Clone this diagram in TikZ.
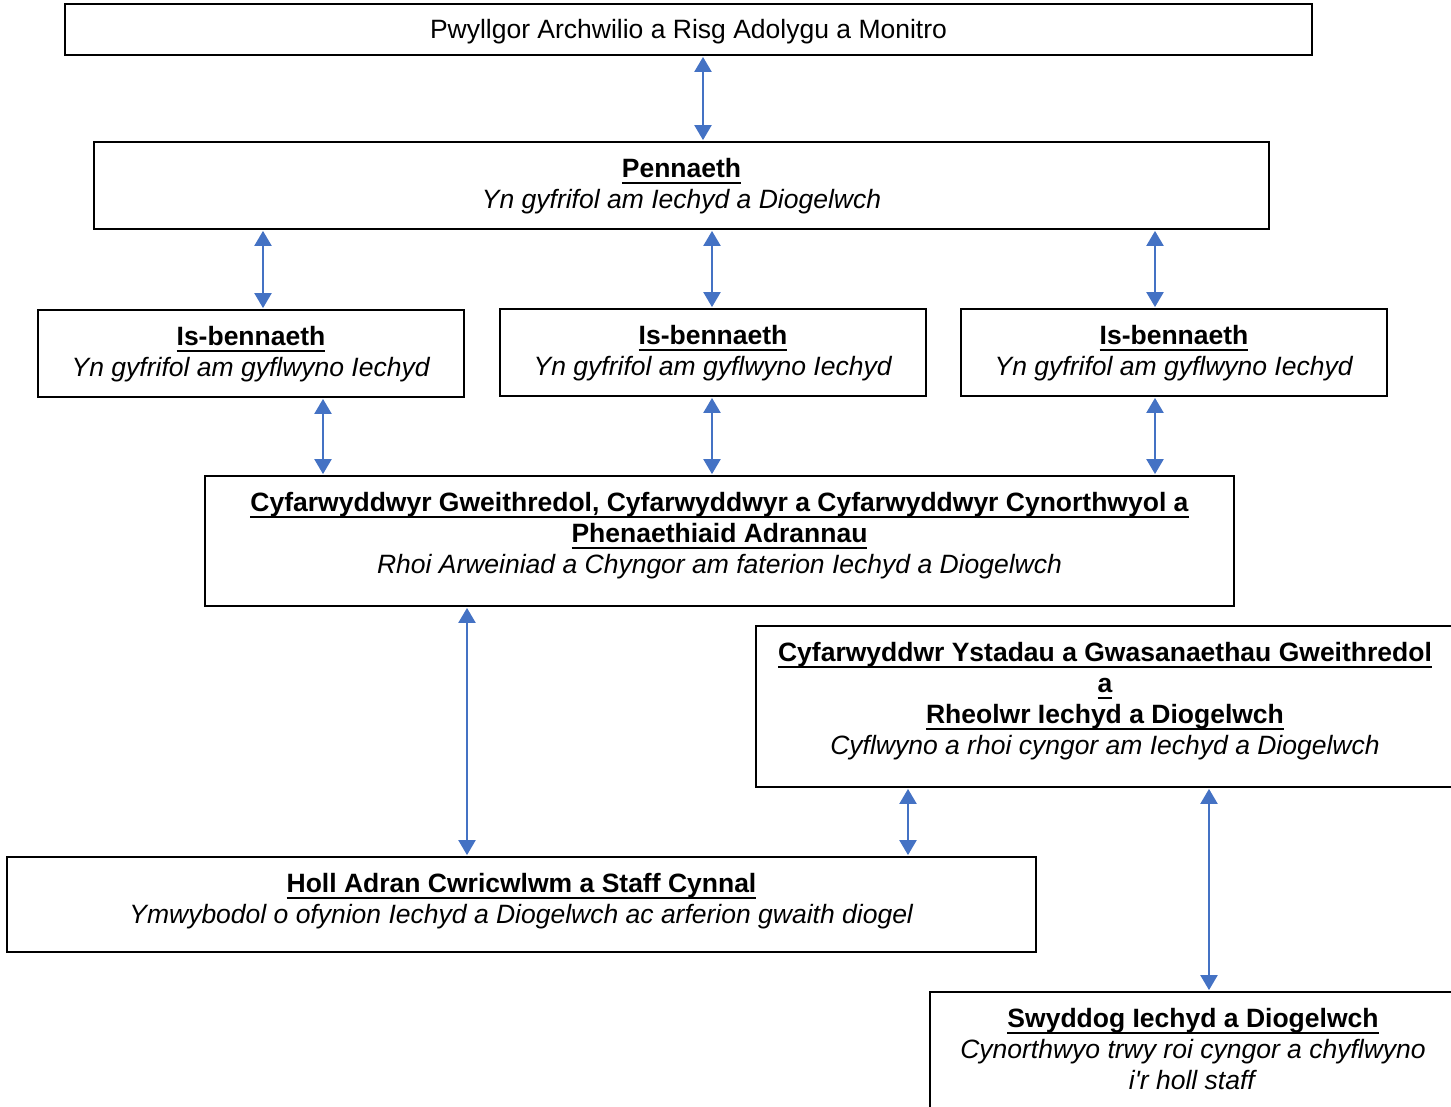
\documentclass[tikz,border=0pt]{standalone}
\usepackage{fontspec}
\setmainfont{Liberation Sans}[Ligatures=TeXOff]
\usetikzlibrary{arrows.meta}
\definecolor{arrowblue}{HTML}{4472C4}
\newcommand\uln[1]{\setbox0\hbox{#1}\rlap{\rule[-6.8pt]{\wd0}{2.3pt}}\box0}
\newcommand\lines[1]{\begin{tabular}[t]{@{}c@{}}#1\end{tabular}}
\tikzset{
  box/.style={draw=black, line width=1.8pt, fill=white, inner sep=0pt},
  txt/.style={anchor=base, inner sep=0pt, font=\fontsize{26.5}{31}\selectfont},
  conn/.style={draw=arrowblue, line width=2.2pt, {Triangle[width=17pt,length=15pt]}-{Triangle[width=17pt,length=15pt]}, shorten <=1pt, shorten >=1pt}
}
\renewcommand\arraystretch{1}
\begin{document}
\begin{tikzpicture}[x=1pt,y=-1pt]
\useasboundingbox (0,0) rectangle (1451,1106);
\clip (0,0) rectangle (1451,1106);
% boxes
\node[box, minimum width=1247pt, minimum height=51pt] (b1) at (688.5,29.5) {};
\node[box, minimum width=1175pt, minimum height=87pt] (b2) at (681.5,185.5) {};
\node[box, minimum width=426pt, minimum height=87pt] (b3a) at (251,353.5) {};
\node[box, minimum width=426pt, minimum height=87pt] (b3b) at (713,352.5) {};
\node[box, minimum width=426pt, minimum height=87pt] (b3c) at (1174,352.5) {};
\node[box, minimum width=1029pt, minimum height=130pt] (b4) at (719.5,541) {};
\node[box, minimum width=698pt, minimum height=161pt] (b5) at (1105,706.5) {};
\node[box, minimum width=1029pt, minimum height=95pt] (b6) at (521.5,904.5) {};
\node[box, minimum width=526pt, minimum height=140pt] (b7) at (1193,1062) {};
% texts
\node[txt] (t1) at (688.5,38) {Pwyllgor Archwilio a Risg Adolygu a Monitro};
\node[txt] (t2) at (681.5,177) {\lines{\textbf{\uln{Pennaeth}}\\ \textit{Yn gyfrifol am Iechyd a Diogelwch}}};
\node[txt] (t3a) at (251,345) {\lines{\textbf{\uln{Is-bennaeth}}\\ \textit{Yn gyfrifol am gyflwyno Iechyd}}};
\node[txt] (t3b) at (713,344) {\lines{\textbf{\uln{Is-bennaeth}}\\ \textit{Yn gyfrifol am gyflwyno Iechyd}}};
\node[txt] (t3c) at (1174,344) {\lines{\textbf{\uln{Is-bennaeth}}\\ \textit{Yn gyfrifol am gyflwyno Iechyd}}};
\node[txt] (t4) at (719.5,511) {\lines{\textbf{\uln{Cyfarwyddwyr Gweithredol, Cyfarwyddwyr a Cyfarwyddwyr Cynorthwyol a}}\\ \textbf{\uln{Phenaethiaid Adrannau}}\\ \textit{Rhoi Arweiniad a Chyngor am faterion Iechyd a Diogelwch}}};
\node[txt] (t5) at (1105,661) {\lines{\textbf{\uln{Cyfarwyddwr Ystadau a Gwasanaethau Gweithredol}}\\ \textbf{\uln{a}}\\ \textbf{\uln{Rheolwr Iechyd a Diogelwch}}\\ \textit{Cyflwyno a rhoi cyngor am Iechyd a Diogelwch}}};
\node[txt] (t6) at (521.5,892) {\lines{\textbf{\uln{Holl Adran Cwricwlwm a Staff Cynnal}}\\ \textit{Ymwybodol o ofynion Iechyd a Diogelwch ac arferion gwaith diogel}}};
\node[txt] (t7) at (1193,1027) {\lines{\textbf{\uln{Swyddog Iechyd a Diogelwch}}\\ \textit{Cynorthwyo trwy roi cyngor a chyflwyno}\\ \textit{i'r holl staff}}};
% connectors
\draw[conn] (b1.south -| 703,0) -- (b2.north -| 703,0);
\draw[conn] (b2.south -| 263,0) -- (b3a.north -| 263,0);
\draw[conn] (b2.south -| 712,0) -- (b3b.north -| 712,0);
\draw[conn] (b2.south -| 1155,0) -- (b3c.north -| 1155,0);
\draw[conn] (b3a.south -| 323,0) -- (b4.north -| 323,0);
\draw[conn] (b3b.south -| 712,0) -- (b4.north -| 712,0);
\draw[conn] (b3c.south -| 1155,0) -- (b4.north -| 1155,0);
\draw[conn] (b4.south -| 467,0) -- (b6.north -| 467,0);
\draw[conn] (b5.south -| 908,0) -- (b6.north -| 908,0);
\draw[conn] (b5.south -| 1209,0) -- (b7.north -| 1209,0);
\end{tikzpicture}
\end{document}
